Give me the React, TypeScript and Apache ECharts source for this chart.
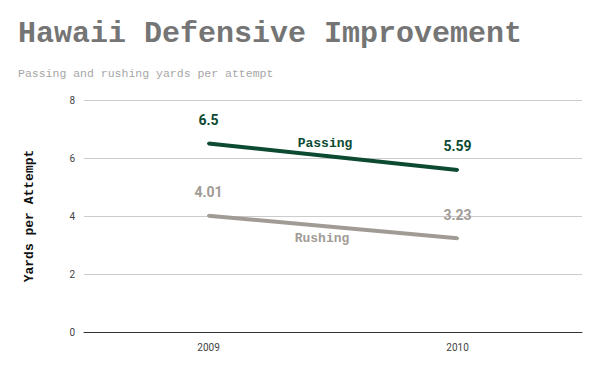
import React, { useEffect, useRef } from "react";
import * as echarts from "echarts";

const years = ["2009", "2010"];
const passing = [6.5, 5.59];
const rushing = [4.01, 3.23];
const yTicks = [0, 2, 4, 6, 8];

export default function App() {
  const ref = useRef<HTMLDivElement>(null);
  useEffect(() => {
    const chart = echarts.init(ref.current!, null, { renderer: "svg" });
    const mono = "'Liberation Mono', 'Courier New', monospace";
    const mkSeries = (name: string, data: number[], color: string) => ({
      name,
      type: "line",
      data,
      symbol: "circle",
      symbolSize: 3,
      showSymbol: true,
      itemStyle: { color },
      lineStyle: { color, width: 4 },
      label: {
        show: true,
        position: "top",
        distance: 15,
        fontFamily: "Roboto, sans-serif",
        fontWeight: "bold",
        fontSize: 14,
        color,
      },
    });
    chart.setOption({
      animation: false,
      backgroundColor: "#ffffff",
      title: {
        text: "Hawaii Defensive Improvement",
        subtext: "Passing and rushing yards per attempt",
        left: 13,
        top: 14,
        itemGap: 18,
        textStyle: { fontFamily: mono, fontWeight: "bold", fontSize: 30, color: "#757575" },
        subtextStyle: { fontFamily: mono, fontSize: 11.5, color: "#a6a6a6" },
      },
      grid: { left: 84, right: 18, top: 100, bottom: 39 },
      xAxis: {
        type: "category",
        data: years,
        boundaryGap: true,
        axisLine: { lineStyle: { color: "#333333", width: 1 } },
        axisTick: { show: false },
        axisLabel: { color: "#444444", fontSize: 10, fontFamily: "Roboto, sans-serif", margin: 10 },
      },
      yAxis: {
        type: "value",
        min: yTicks[0],
        max: yTicks[yTicks.length - 1],
        interval: 2,
        name: "Yards per Attempt",
        nameLocation: "middle",
        nameGap: 48,
        nameTextStyle: { fontFamily: mono, fontWeight: "bold", fontSize: 13, color: "#111111" },
        axisLine: { show: false },
        axisTick: { show: false },
        axisLabel: { color: "#444444", fontSize: 10, fontFamily: "Roboto, sans-serif", margin: 9 },
        splitLine: { lineStyle: { color: "#cccccc", width: 1 } },
      },
      series: [
        mkSeries("Passing", passing, "#0c4a32"),
        mkSeries("Rushing", rushing, "#a19b95"),
      ],
      graphic: [
        {
          type: "text",
          x: 325,
          y: 143,
          style: {
            text: "Passing",
            fontFamily: mono,
            fontWeight: "bold",
            fontSize: 13,
            fill: "#0c4a32",
            align: "center",
            verticalAlign: "middle",
          },
        },
        {
          type: "text",
          x: 322,
          y: 238,
          style: {
            text: "Rushing",
            fontFamily: mono,
            fontWeight: "bold",
            fontSize: 13,
            fill: "#a19b95",
            align: "center",
            verticalAlign: "middle",
          },
        },
      ],
    });
    return () => chart.dispose();
  }, []);
  return <div ref={ref} style={{ width: 600, height: 371, position: "absolute", left: 0, top: 0 }} />;
}
